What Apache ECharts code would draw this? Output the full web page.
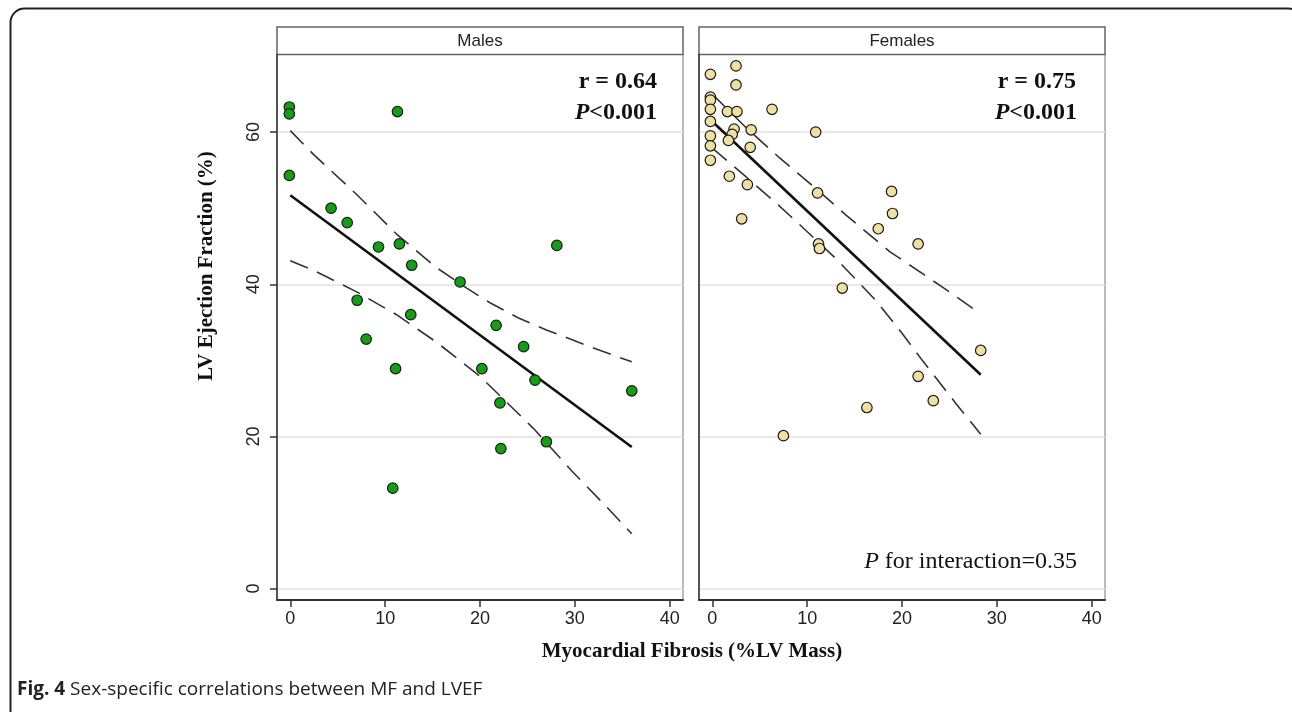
<!DOCTYPE html>
<html><head><meta charset="utf-8">
<script src="https://cdn.jsdelivr.net/npm/echarts@6/dist/echarts.min.js"></script>
<style>html,body{margin:0;padding:0;background:#fff}#c{width:1292px;height:712px}</style>
</head><body><div id="c"></div>
<script>
// ---------- data ----------
const panelTitles = ['Males', 'Females'];
const xTicks = [0, 10, 20, 30, 40];
const yTicks = [0, 20, 40, 60];

const malesPoints = [
  [-0.1,63.3],[-0.1,62.4],[11.3,62.7],[-0.1,54.3],[4.3,50.0],[6.0,48.1],[9.3,44.9],
  [11.5,45.3],[12.8,42.5],[17.9,40.3],[28.1,45.1],[7.05,37.9],[12.7,36.0],[21.7,34.6],
  [8.0,32.8],[24.6,31.8],[11.1,28.9],[20.2,28.9],[25.8,27.4],[36.0,26.0],[22.1,24.4],
  [27.0,19.3],[22.2,18.4],[10.8,13.2]
];
const femalesPoints = [
  [-0.2,67.6],[2.5,68.7],[2.5,66.2],[-0.2,64.6],[-0.2,64.2],[-0.2,63.0],[1.6,62.7],
  [2.6,62.7],[6.3,63.0],[-0.2,61.4],[2.3,60.4],[4.1,60.3],[10.9,60.0],[-0.2,59.5],
  [2.1,59.7],[1.7,58.9],[-0.2,58.2],[4.0,58.0],[-0.2,56.3],[1.8,54.2],[3.7,53.1],
  [11.1,52.0],[18.9,52.2],[19.0,49.3],[3.1,48.6],[17.5,47.3],[11.2,45.3],[11.3,44.7],
  [21.7,45.3],[13.7,39.5],[28.3,31.3],[21.7,27.9],[23.3,24.7],[16.3,23.8],[7.5,20.1]
];

const malesFit   = [[0,51.7],[36,18.6]];
const malesUpper = [[0,60.2],[2.5,57.0],[7,51.8],[11.2,46.6],[15.4,42.2],[18.6,39.5],[21,37.6],[24,35.6],[27,34.0],[31.6,31.8],[36,29.8]];
const malesLower = [[0,43.1],[2.5,41.8],[7,39.0],[11.2,36.0],[15.4,32.4],[20,27.9],[25.6,21.1],[29.8,15.3],[33.3,10.8],[36,7.2]];

const femalesFit   = [[0,61.4],[28.3,28.1]];
const femalesUpper = [[0,65.0],[3.3,60.9],[7.1,56.6],[11,52.5],[14.1,49.1],[18.7,44.3],[24.3,39.6],[28.3,36.1]];
const femalesLower = [[0,57.9],[3.3,54.4],[6.8,50.6],[8.9,48.2],[13.1,43.3],[17.3,37.8],[20.1,33.4],[22.2,29.9],[25.7,24.3],[28.3,20.3]];

const statLabels = [['r = 0.64', '<0.001'], ['r = 0.75', '<0.001']];
const interactionText = ' for interaction=0.35';
const yTitle = 'LV Ejection Fraction (%)';
const xTitle = 'Myocardial Fibrosis (%LV Mass)';
const captionBold = 'Fig. 4';
const captionText = ' Sex-specific correlations between MF and LVEF';

// ---------- layout ----------
const SANS = '"Liberation Sans", Arial, sans-serif';
const SERIF = '"Liberation Serif", "Times New Roman", serif';
const grids = [
  {left: 277, top: 54.5, width: 406, height: 545.5, show: true, borderColor: '#777', borderWidth: 1},
  {left: 699, top: 54.5, width: 406, height: 545.5, show: true, borderColor: '#777', borderWidth: 1}
];

function xAxisFor(i) {
  return {
    type: 'value', gridIndex: i, min: -1.4, max: 41.4,
    axisLine: {show: true, onZero: false, lineStyle: {color: '#333', width: 2}},
    axisTick: {show: true, length: 7, customValues: xTicks, lineStyle: {color: '#333', width: 1.5}},
    axisLabel: {show: true, customValues: xTicks, margin: 10, fontFamily: SANS, fontSize: 18, color: '#222'},
    splitLine: {show: false}
  };
}
function yAxisFor(i) {
  return {
    type: 'value', gridIndex: i, min: -1.5, max: 70.2,
    axisLine: {show: true, onZero: false, lineStyle: {color: '#333', width: 1.5}},
    axisTick: {show: i === 0, length: 7, customValues: yTicks, lineStyle: {color: '#333', width: 1.5}},
    axisLabel: {show: i === 0, customValues: yTicks, rotate: 90, margin: 14, fontFamily: SANS, fontSize: 18, color: '#222'},
    splitLine: {show: true, lineStyle: {color: '#e2e2e2', width: 1.5}}
  };
}

const dash = [19, 10];
function lineSeries(data, i, dashed, width) {
  return {
    type: 'line', xAxisIndex: i, yAxisIndex: i, data: data, symbol: 'none',
    smooth: false, z: 3, silent: true,
    lineStyle: {color: dashed ? '#333' : '#111', width: width, type: dashed ? dash : 'solid'}
  };
}
function scatterSeries(data, i, color) {
  return {
    type: 'scatter', xAxisIndex: i, yAxisIndex: i, data: data, symbolSize: 10.5, z: 5,
    itemStyle: {color: color, borderColor: '#1a1a1a', borderWidth: 1.2, opacity: 1}
  };
}

const series = [
  lineSeries(malesUpper, 0, true, 1.6), lineSeries(malesLower, 0, true, 1.6), lineSeries(malesFit, 0, false, 2.6),
  lineSeries(femalesUpper, 1, true, 1.6), lineSeries(femalesLower, 1, true, 1.6), lineSeries(femalesFit, 1, false, 2.6),
  scatterSeries(malesPoints, 0, '#12a012'), scatterSeries(femalesPoints, 1, '#efe0a2')
];

const rich = {
  b: {font: 'bold 24px ' + SERIF, fill: '#111'},
  bi: {font: 'italic bold 24px ' + SERIF, fill: '#111'},
  n: {font: '24px ' + SERIF, fill: '#111'},
  i: {font: 'italic 24px ' + SERIF, fill: '#111'}
};

const graphic = [
  {type: 'rect', shape: {x: 10.5, y: 8.5, width: 1292, height: 720, r: 14}, style: {fill: 'none', stroke: '#222', lineWidth: 2}, silent: true},
  {type: 'rect', shape: {x: 277, y: 27, width: 406, height: 27.5}, style: {fill: '#fff', stroke: '#666', lineWidth: 1.5}, silent: true},
  {type: 'rect', shape: {x: 699, y: 27, width: 406, height: 27.5}, style: {fill: '#fff', stroke: '#666', lineWidth: 1.5}, silent: true},
  {type: 'text', x: 480, y: 41, style: {text: panelTitles[0], font: '17px ' + SANS, fill: '#222', textAlign: 'center', textVerticalAlign: 'middle'}},
  {type: 'text', x: 902, y: 41, style: {text: panelTitles[1], font: '17px ' + SANS, fill: '#222', textAlign: 'center', textVerticalAlign: 'middle'}},
  {type: 'text', x: 657, y: 82, style: {text: '{b|' + statLabels[0][0] + '}', rich: rich, textAlign: 'right', textVerticalAlign: 'middle'}},
  {type: 'text', x: 657, y: 113, style: {text: '{bi|P}{b|' + statLabels[0][1] + '}', rich: rich, textAlign: 'right', textVerticalAlign: 'middle'}},
  {type: 'text', x: 1076, y: 82, style: {text: '{b|' + statLabels[1][0] + '}', rich: rich, textAlign: 'right', textVerticalAlign: 'middle'}},
  {type: 'text', x: 1077, y: 113, style: {text: '{bi|P}{b|' + statLabels[1][1] + '}', rich: rich, textAlign: 'right', textVerticalAlign: 'middle'}},
  {type: 'text', x: 1077, y: 562, style: {text: '{i|P}{n|' + interactionText + '}', rich: rich, textAlign: 'right', textVerticalAlign: 'middle'}},
  {type: 'text', x: 207, y: 266, rotation: Math.PI / 2, style: {text: yTitle, font: 'bold 21px ' + SERIF, fill: '#111', textAlign: 'center', textVerticalAlign: 'middle'}},
  {type: 'text', x: 692, y: 652, style: {text: xTitle, font: 'bold 21px ' + SERIF, fill: '#111', textAlign: 'center', textVerticalAlign: 'middle'}},
  {type: 'text', x: 17, y: 690, style: {text: '{cb|' + captionBold + '}{cn|' + captionText + '}', textVerticalAlign: 'middle',
    rich: {cb: {font: 'bold 19px "Open Sans", sans-serif', fill: '#222'}, cn: {font: '19px "Open Sans", sans-serif', fill: '#222'}}}}
];

const chart = echarts.init(document.getElementById('c'), null, {renderer: 'canvas'});
chart.setOption({
  animation: false,
  backgroundColor: '#fff',
  grid: grids,
  xAxis: [xAxisFor(0), xAxisFor(1)],
  yAxis: [yAxisFor(0), yAxisFor(1)],
  series: series,
  graphic: graphic
});
</script></body></html>
